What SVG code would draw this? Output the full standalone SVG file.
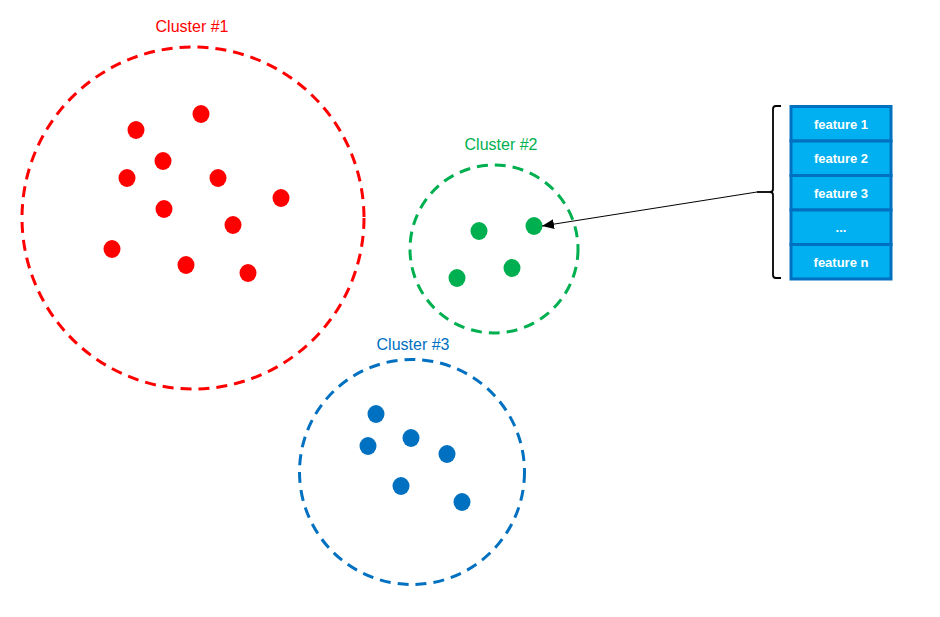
<svg xmlns="http://www.w3.org/2000/svg" width="940" height="617" viewBox="0 0 940 617">
<style>
.ring{fill:none;stroke-width:3;stroke-dasharray:11 7}
.lbl{font-family:"Liberation Sans",Arial,sans-serif;font-size:16px;text-anchor:middle}
.r{fill:#FF0000}.g{fill:#00B050}.b{fill:#0070C0}
.cell{fill:#00B0F0;stroke:#0070C0;stroke-width:3}
.ft{font-family:"Liberation Sans",Arial,sans-serif;font-size:13px;font-weight:bold;fill:#fff;text-anchor:middle}
</style>
<defs>
<marker id="ah" viewBox="0 0 12 10" refX="12" refY="5" markerWidth="12" markerHeight="10" markerUnits="userSpaceOnUse" orient="auto">
<path d="M0,0 L12,5 L0,10 z" fill="#000"/>
</marker>
</defs>
<rect width="940" height="617" fill="#fff"/>
<g id="cluster1">
<circle class="ring" cx="193" cy="218" r="171" stroke="#FF0000"/>
<text class="lbl r" x="192" y="32">Cluster #1</text>
<g class="r">
<ellipse cx="136" cy="130" rx="8.5" ry="9"/><ellipse cx="201" cy="114" rx="8.5" ry="9"/>
<ellipse cx="163" cy="161" rx="8.5" ry="9"/><ellipse cx="127" cy="178" rx="8.5" ry="9"/>
<ellipse cx="218" cy="178" rx="8.5" ry="9"/><ellipse cx="281" cy="198" rx="8.5" ry="9"/>
<ellipse cx="164" cy="209" rx="8.5" ry="9"/><ellipse cx="233" cy="225" rx="8.5" ry="9"/>
<ellipse cx="112" cy="249" rx="8.5" ry="9"/><ellipse cx="186" cy="265" rx="8.5" ry="9"/>
<ellipse cx="248" cy="273" rx="8.5" ry="9"/>
</g>
</g>
<g id="cluster2">
<circle class="ring" cx="494" cy="249" r="84" stroke="#00B050"/>
<text class="lbl g" x="501" y="150">Cluster #2</text>
<g class="g">
<ellipse cx="479" cy="231" rx="8.5" ry="9"/><ellipse cx="534" cy="226" rx="8.5" ry="9"/>
<ellipse cx="457" cy="278" rx="8.5" ry="9"/><ellipse cx="512" cy="268" rx="8.5" ry="9"/>
</g>
</g>
<g id="cluster3">
<circle class="ring" cx="412" cy="472" r="112.5" stroke="#0070C0"/>
<text class="lbl b" x="413" y="350">Cluster #3</text>
<g class="b">
<ellipse cx="376" cy="414" rx="8.5" ry="9"/><ellipse cx="411" cy="438" rx="8.5" ry="9"/>
<ellipse cx="368" cy="446" rx="8.5" ry="9"/><ellipse cx="447" cy="454" rx="8.5" ry="9"/>
<ellipse cx="401" cy="486" rx="8.5" ry="9"/><ellipse cx="462" cy="502" rx="8.5" ry="9"/>
</g>
</g>
<g id="features">
<rect class="cell" x="791" y="106.5" width="100" height="34.5"/>
<rect class="cell" x="791" y="141" width="100" height="34.5"/>
<rect class="cell" x="791" y="175.5" width="100" height="34.5"/>
<rect class="cell" x="791" y="210" width="100" height="34.5"/>
<rect class="cell" x="791" y="244.5" width="100" height="34.5"/>
<text class="ft" x="841" y="128.5">feature 1</text>
<text class="ft" x="841" y="162.5">feature 2</text>
<text class="ft" x="841" y="197.5">feature 3</text>
<text class="ft" x="841" y="231.5">...</text>
<text class="ft" x="841" y="266.5">feature n</text>
</g>
<g id="brace">
<path d="M781,106 L776,106 Q773,106 773,109 L773,189 Q773,192 770,192 Q773,192 773,195 L773,275 Q773,278 776,278 L781,278" fill="none" stroke="#000" stroke-width="1.8"/>
<path d="M757,192 L770,192" stroke="#000" stroke-width="1.8"/>
</g>
<g id="connectors">
<line x1="757" y1="192" x2="542" y2="226" stroke="#000" stroke-width="1" marker-end="url(#ah)"/>
</g>
</svg>
